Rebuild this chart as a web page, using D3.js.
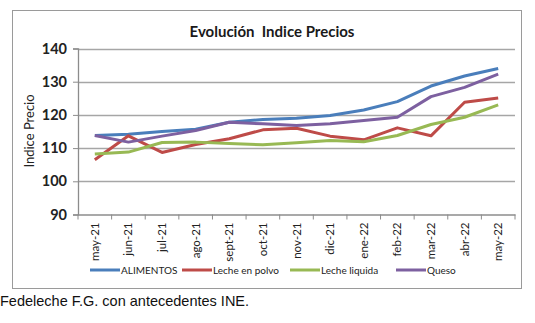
<!DOCTYPE html>
<html>
<head>
<meta charset="utf-8">
<script src="https://cdn.jsdelivr.net/npm/d3@7"></script>
<style>
body { margin:0; background:#fff; }
svg { display:block; }
</style>
</head>
<body>
<div id="chart"></div>
<script>
var months = ["may-21","jun-21","jul-21","ago-21","sept-21","oct-21","nov-21","dic-21","ene-22","feb-22","mar-22","abr-22","may-22"];
var alimentos = [113.8,114.2,115.0,115.7,117.8,118.6,119.0,119.8,121.5,124.0,128.7,131.7,134.0];
var lechePolvo = [106.5,113.7,108.7,111.1,112.8,115.5,116.0,113.6,112.5,116.1,113.7,123.8,125.1];
var lecheLiquida = [108.2,108.8,111.7,111.8,111.4,111.0,111.6,112.3,111.9,113.8,117.1,119.3,123.0];
var queso = [113.8,111.8,113.6,115.3,117.8,117.3,116.8,117.3,118.3,119.3,125.5,128.3,132.3];
var yTicks = [90,100,110,120,130,140];

var series = [
    {name:"ALIMENTOS", values:alimentos, color:"#4a7ebb"},
    {name:"Leche en polvo", values:lechePolvo, color:"#be4b48"},
    {name:"Leche liquida", values:lecheLiquida, color:"#98b954"},
    {name:"Queso", values:queso, color:"#7d60a0"}
];

var W = 535, H = 323;
var svg = d3.select("#chart").append("svg")
    .attr("width", W).attr("height", H);

// outer frame
svg.append("rect")
    .attr("x", 12.5).attr("y", 10.5)
    .attr("width", 509).attr("height", 278)
    .style("fill", "#fff").style("stroke", "#9a9a9a");

svg.append("text")
    .attr("x", 272).attr("y", 37)
    .attr("text-anchor", "middle")
    .style("white-space", "pre")
    .style("font-family", "Lato, 'Open Sans', sans-serif")
    .style("font-weight", "bold").style("font-size", "15px")
    .style("fill", "#1a1a1a")
    .text("Evolución  Indice Precios");

var x = d3.scaleBand(months, [78, 515]);
var y = d3.scaleLinear([90, 140], [214.5, 48.5]);

// grid
svg.append("g").selectAll("line")
    .data(yTicks.slice(1))
    .join("line")
    .attr("x1", 78).attr("x2", 515)
    .attr("y1", d => Math.round(y(d)) + 0.5).attr("y2", d => Math.round(y(d)) + 0.5)
    .style("stroke", "#a6a6a6").style("stroke-width", 1.5);

var yAxis = svg.append("g")
    .attr("transform", "translate(78,0)")
    .call(d3.axisLeft(y).tickValues(yTicks).tickSize(5).tickPadding(6));
yAxis.select(".domain").style("stroke", "#8c8c8c").style("stroke-width", 1.3);
yAxis.selectAll(".tick line").style("stroke", "#8c8c8c");
yAxis.selectAll("text")
    .style("font-family", "Lato, 'Open Sans', sans-serif")
    .style("font-size", "14.5px").style("font-weight", "bold")
    .style("fill", "#222");

var xAxis = svg.append("g")
    .attr("transform", "translate(0," + y(90) + ")")
    .call(d3.axisBottom(x).tickSize(0).tickPadding(8));
xAxis.select(".domain").style("stroke", "#8c8c8c").style("stroke-width", 1.3);
xAxis.selectAll("text")
    .attr("transform", "rotate(-90)")
    .attr("text-anchor", "end")
    .attr("dy", "0.35em").attr("x", -8).attr("y", 0)
    .style("font-family", "Lato, 'Open Sans', sans-serif")
    .style("font-size", "11.5px")
    .style("fill", "#222");
// tick marks between categories
svg.append("g").selectAll("line")
    .data(months.concat(["end"]))
    .join("line")
    .attr("x1", (d, i) => 78 + i * x.step()).attr("x2", (d, i) => 78 + i * x.step())
    .attr("y1", y(90)).attr("y2", y(90) + 5)
    .style("stroke", "#8c8c8c");

svg.append("text")
    .attr("transform", "translate(34,131) rotate(-90)")
    .attr("text-anchor", "middle")
    .style("font-family", "Lato, 'Open Sans', sans-serif")
    .style("font-size", "13px")
    .style("fill", "#222")
    .text("Indice Precio");

var line = d3.line()
    .x((d, i) => x(months[i]) + x.bandwidth() / 2)
    .y(d => y(d));

svg.append("g").selectAll("path")
    .data(series)
    .join("path")
    .attr("d", d => line(d.values))
    .style("fill", "none")
    .style("stroke", d => d.color)
    .style("stroke-width", 3)
    .style("stroke-linejoin", "round");

// legend
var legX = [90, 182, 290, 396];
var leg = svg.append("g").selectAll("g")
    .data(series)
    .join("g")
    .attr("transform", (d, i) => "translate(" + legX[i] + ",270)");
leg.append("line")
    .attr("x1", 0).attr("x2", 30)
    .style("stroke", d => d.color).style("stroke-width", 3);
leg.append("text")
    .attr("x", 31).attr("dy", "0.35em")
    .style("font-family", "Lato, 'Open Sans', sans-serif")
    .style("font-size", "10px")
    .style("fill", "#222")
    .text(d => d.name);

svg.append("text")
    .attr("x", 0).attr("y", 306)
    .style("font-family", "'Liberation Sans', Arial, sans-serif")
    .style("font-size", "14.5px")
    .style("fill", "#111")
    .text("Fedeleche F.G. con antecedentes INE.");
</script>
</body>
</html>
